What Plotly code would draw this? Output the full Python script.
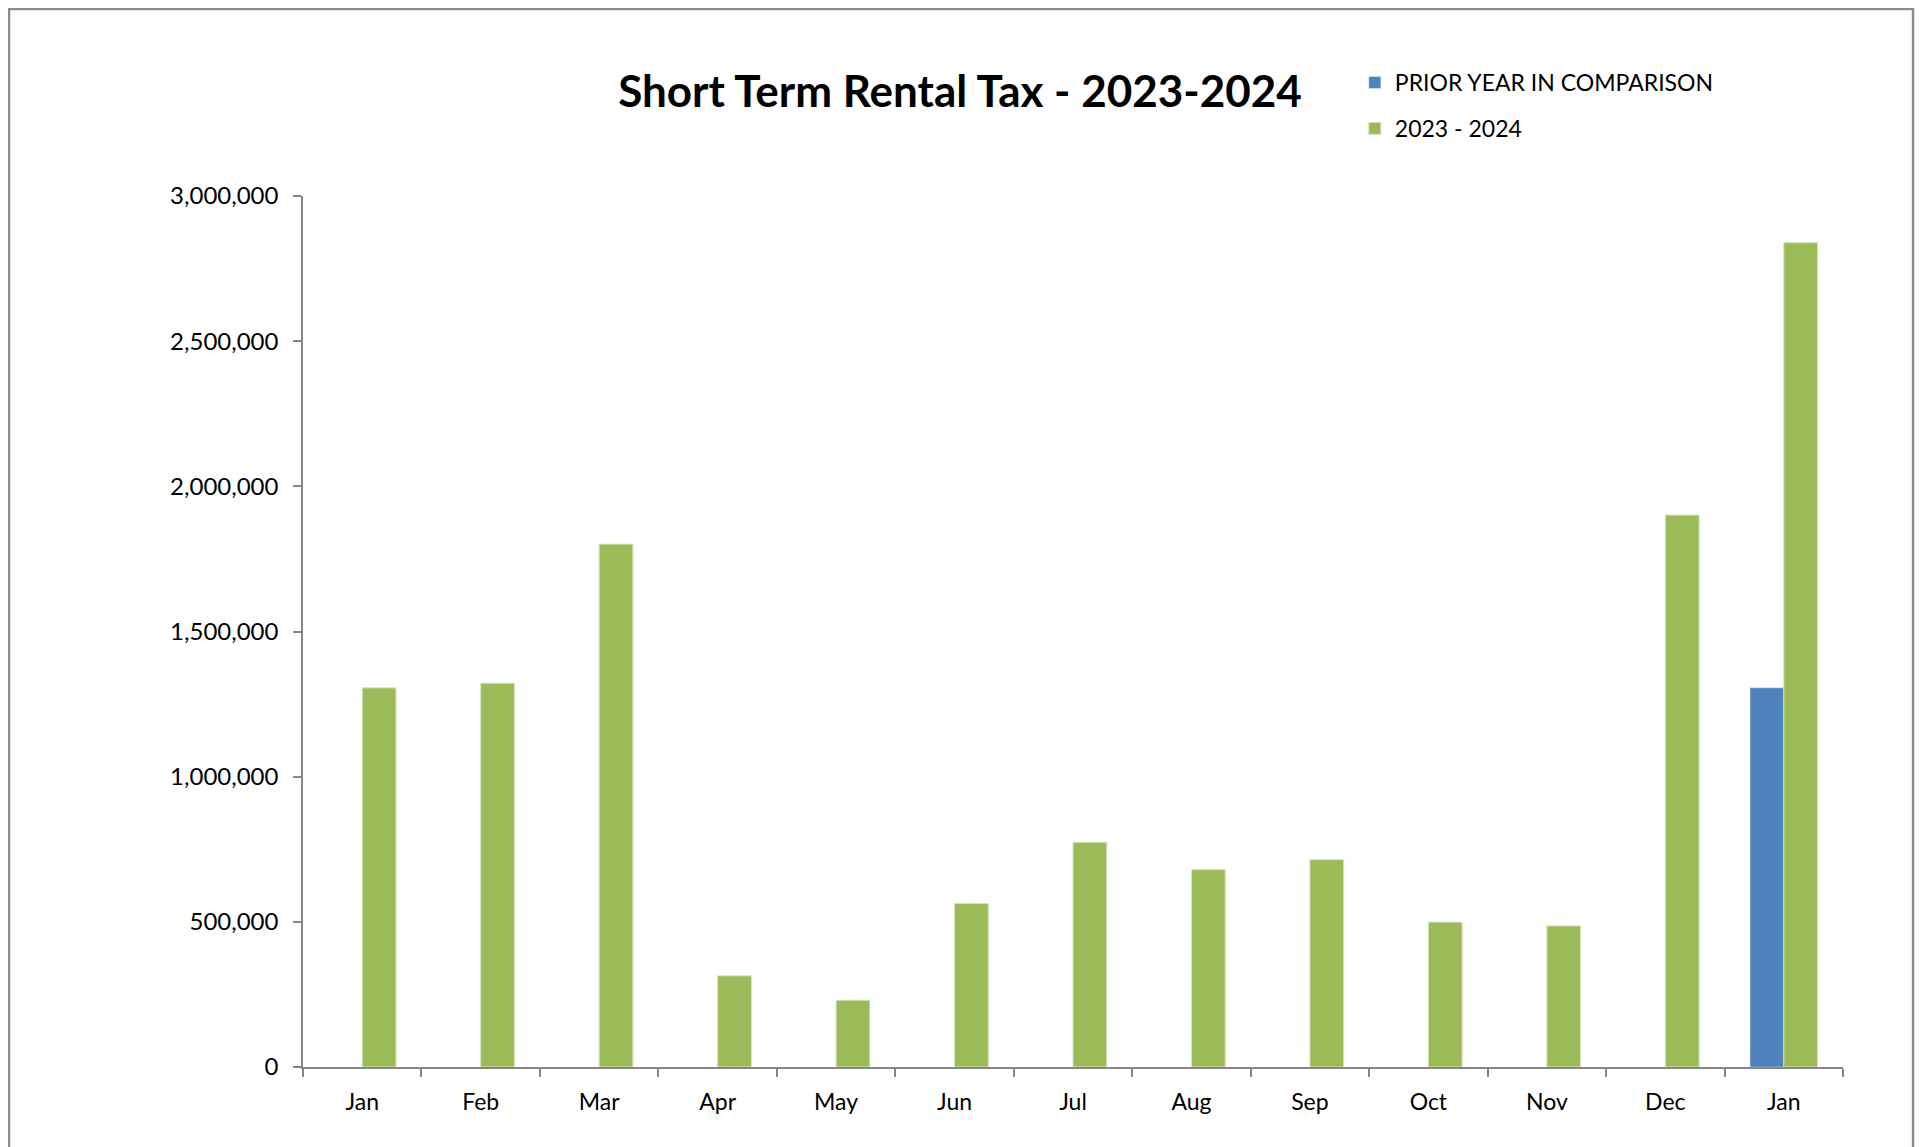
import plotly.graph_objects as go

# month keys (unique) and the labels shown under the axis
periods = ["2023-01", "2023-02", "2023-03", "2023-04", "2023-05", "2023-06", "2023-07",
           "2023-08", "2023-09", "2023-10", "2023-11", "2023-12", "2024-01"]
month_labels = ["Jan", "Feb", "Mar", "Apr", "May", "Jun", "Jul",
                "Aug", "Sep", "Oct", "Nov", "Dec", "Jan"]

prior_year = [None, None, None, None, None, None, None,
              None, None, None, None, None, 1306000]
current_year = [1306000, 1322000, 1801000, 314000, 230000, 563000, 774000,
                680000, 714000, 499000, 486000, 1901000, 2839000]

y_ticks = [0, 500000, 1000000, 1500000, 2000000, 2500000, 3000000]

font_family = "Lato, 'Open Sans', sans-serif"
axis_grey = "#868686"

fig = go.Figure()
fig.add_trace(go.Bar(name="PRIOR YEAR IN COMPARISON", x=periods, y=prior_year,
                     marker_color="#4F81BD", legendgroup="a"))
fig.add_trace(go.Bar(name="2023 - 2024", x=periods, y=current_year,
                     marker_color="#9BBB59", marker_line=dict(color="#D7E4BD", width=1),
                     legendgroup="b"))

# page body has an 8px margin, so the figure is 8px smaller than the window
fig.update_layout(
    barmode="group",
    bargap=0.43,
    bargroupgap=0,
    width=1915, height=1139,
    margin=dict(l=295, r=80, t=188, b=80),
    paper_bgcolor="white",
    plot_bgcolor="white",
    font=dict(family=font_family, color="black"),
    title=dict(text="<b>Short Term Rental Tax - 2023-2024</b>",
               font=dict(family=font_family, size=44, color="black"),
               x=952 / 1915, xref="container", xanchor="center",
               y=1 - 84 / 1139, yref="container", yanchor="middle"),
    legend=dict(x=0.683, y=1.155, xanchor="left", yanchor="top",
                font=dict(family=font_family, size=23, color="black"),
                traceorder="grouped", tracegroupgap=13,
                bgcolor="rgba(0,0,0,0)"),
    showlegend=True,
)

fig.update_xaxes(
    type="category",
    tickmode="array", tickvals=periods, ticktext=month_labels,
    tickson="boundaries",
    ticks="outside", ticklen=8, tickcolor=axis_grey, tickwidth=1.5,
    ticklabelstandoff=14,
    showline=True, linecolor=axis_grey, linewidth=1.5,
    showgrid=False,
    tickfont=dict(family=font_family, size=23, color="black"),
)
fig.update_yaxes(
    range=[0, 3000000],
    tickmode="array", tickvals=y_ticks,
    tickformat=",d",
    ticks="outside", ticklen=8, tickcolor=axis_grey, tickwidth=1.5,
    ticklabelstandoff=10,
    showline=True, linecolor=axis_grey, linewidth=1.5,
    showgrid=False, zeroline=False,
    tickfont=dict(family=font_family, size=24, color="black"),
)

# outer chart border
fig.add_shape(type="rect", xref="paper", yref="paper",
              x0=-0.1909, x1=1.0455, y0=-0.2, y1=1.2147,
              line=dict(color="#8C8C8C", width=2.5), layer="below")

fig.write_html("out.html")
